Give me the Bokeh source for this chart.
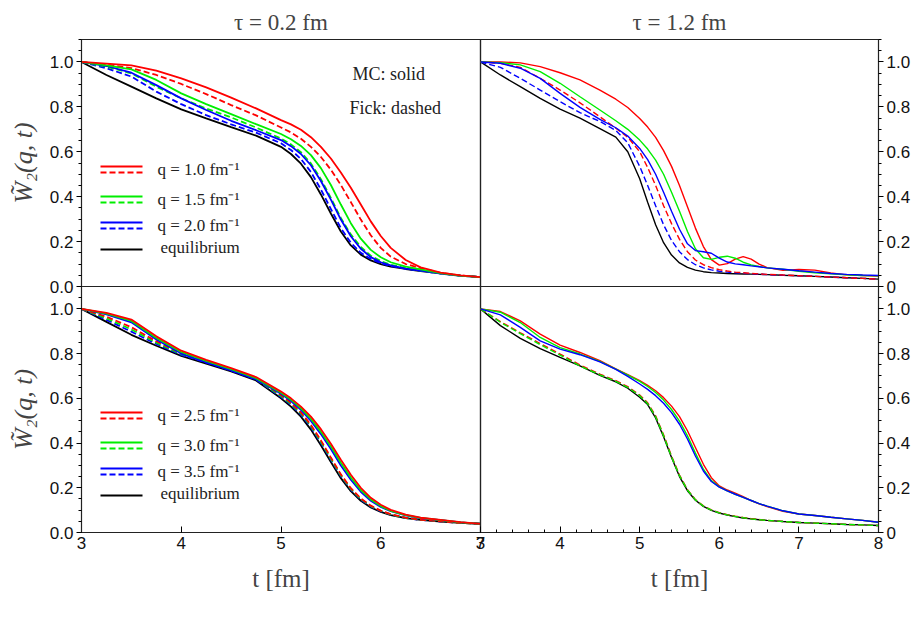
from bokeh.plotting import figure
from bokeh.layouts import column, row
from bokeh.models import Range1d, Label, Arrow, SingleIntervalTicker, NumeralTickFormatter
from bokeh.embed import file_html
from bokeh.resources import INLINE

# ---------------- data ----------------
t_left = [3.0, 3.25, 3.5, 3.75, 4.0, 4.25, 4.5, 4.75, 5.0, 5.1, 5.2, 5.3, 5.4, 5.5, 5.6, 5.7, 5.8, 5.9, 6.0, 6.1,
          6.25, 6.4, 6.6, 6.8, 7.0]
t_right = [3.0, 3.25, 3.5, 3.75, 4.0, 4.25, 4.5, 4.7, 4.85, 5.0, 5.1, 5.2, 5.3, 5.4, 5.5, 5.6, 5.7, 5.8, 5.9, 6.0,
           6.1, 6.2, 6.3, 6.4, 6.5, 6.6, 6.8, 7.0, 7.2, 7.4, 7.6, 7.8, 8.0]

# tau = 0.2 fm, q = 1.0 / 1.5 / 2.0
tl_red_mc = [1.0, 0.993, 0.985, 0.961, 0.927, 0.887, 0.841, 0.793, 0.741, 0.722, 0.698, 0.665, 0.622, 0.57, 0.508, 0.44, 0.365, 0.29, 0.225, 0.172,
             0.118, 0.085, 0.062, 0.05, 0.042]
tl_red_fick = [1.0, 0.988, 0.973, 0.942, 0.902, 0.857, 0.808, 0.762, 0.708, 0.686, 0.658, 0.622, 0.577, 0.52, 0.452, 0.376, 0.298, 0.228, 0.172, 0.133,
               0.1, 0.082, 0.061, 0.049, 0.042]
tl_green_mc = [1.0, 0.985, 0.967, 0.92, 0.86, 0.812, 0.768, 0.723, 0.679, 0.656, 0.626, 0.585, 0.527, 0.452, 0.365, 0.282, 0.213, 0.163, 0.13, 0.108,
               0.089, 0.076, 0.06, 0.048, 0.042]
tl_green_fick = [1.0, 0.979, 0.949, 0.89, 0.838, 0.793, 0.753, 0.708, 0.659, 0.633, 0.598, 0.548, 0.478, 0.395, 0.305, 0.232, 0.176, 0.137, 0.113, 0.097,
                 0.082, 0.071, 0.058, 0.048, 0.042]
tl_blue_mc = [1.0, 0.982, 0.952, 0.897, 0.838, 0.786, 0.738, 0.696, 0.652, 0.625, 0.59, 0.54, 0.47, 0.387, 0.298, 0.224, 0.168, 0.131, 0.108, 0.094,
              0.08, 0.071, 0.058, 0.048, 0.042]
tl_blue_fick = [1.0, 0.972, 0.935, 0.868, 0.812, 0.763, 0.722, 0.685, 0.638, 0.608, 0.568, 0.51, 0.432, 0.345, 0.26, 0.195, 0.15, 0.122, 0.104, 0.091,
                0.079, 0.07, 0.057, 0.048, 0.042]
tl_equil = [1.0, 0.942, 0.89, 0.838, 0.789, 0.749, 0.71, 0.672, 0.622, 0.59, 0.547, 0.487, 0.41, 0.325, 0.245, 0.183, 0.142, 0.116, 0.1, 0.089,
            0.078, 0.069, 0.058, 0.048, 0.042]

# tau = 1.2 fm, q = 1.0 / 1.5 / 2.0
tr_red_mc = [1.0, 1.0, 0.996, 0.979, 0.952, 0.92, 0.875, 0.834, 0.797, 0.748, 0.71, 0.664, 0.605, 0.535, 0.45, 0.355, 0.26, 0.178, 0.12, 0.095,
             0.102, 0.122, 0.133, 0.122, 0.1, 0.084, 0.072, 0.076, 0.073, 0.06, 0.052, 0.049, 0.046]
tr_red_fick = [1.0, 0.994, 0.976, 0.927, 0.875, 0.818, 0.756, 0.705, 0.665, 0.6, 0.53, 0.45, 0.36, 0.28, 0.21, 0.155, 0.118, 0.097, 0.084, 0.075,
               0.069, 0.064, 0.061, 0.058, 0.056, 0.054, 0.051, 0.048, 0.045, 0.042, 0.039, 0.036, 0.033]
tr_green_mc = [1.0, 0.997, 0.987, 0.957, 0.905, 0.845, 0.786, 0.738, 0.7, 0.652, 0.612, 0.563, 0.5, 0.42, 0.335, 0.245, 0.168, 0.128, 0.121, 0.13,
               0.135, 0.126, 0.108, 0.096, 0.089, 0.083, 0.077, 0.068, 0.061, 0.057, 0.052, 0.049, 0.048]
tr_blue_mc = [1.0, 0.994, 0.972, 0.927, 0.86, 0.798, 0.744, 0.707, 0.67, 0.615, 0.565, 0.5, 0.42, 0.335, 0.255, 0.19, 0.16, 0.155, 0.148, 0.126,
              0.109, 0.101, 0.097, 0.092, 0.088, 0.083, 0.077, 0.07, 0.064, 0.058, 0.054, 0.051, 0.049]
tr_blue_fick = [1.0, 0.976, 0.927, 0.875, 0.823, 0.774, 0.735, 0.695, 0.64, 0.535, 0.45, 0.36, 0.275, 0.205, 0.155, 0.12, 0.097, 0.083, 0.074, 0.068,
                0.064, 0.061, 0.059, 0.057, 0.055, 0.053, 0.05, 0.048, 0.045, 0.042, 0.039, 0.036, 0.033]
tr_equil = [1.0, 0.942, 0.89, 0.838, 0.79, 0.75, 0.703, 0.665, 0.6, 0.48, 0.375, 0.275, 0.195, 0.14, 0.105, 0.085, 0.073, 0.066, 0.062, 0.06,
            0.058, 0.057, 0.056, 0.055, 0.054, 0.053, 0.05, 0.048, 0.045, 0.042, 0.039, 0.036, 0.033]

# tau = 0.2 fm, q = 2.5 / 3.0 / 3.5
bl_red_mc = [1.0, 0.982, 0.952, 0.877, 0.813, 0.772, 0.735, 0.695, 0.63, 0.6, 0.563, 0.518, 0.462, 0.397, 0.325, 0.258, 0.2, 0.155, 0.124, 0.101,
             0.08, 0.066, 0.056, 0.046, 0.039]
bl_red_fick = [1.0, 0.965, 0.918, 0.855, 0.802, 0.766, 0.73, 0.69, 0.615, 0.58, 0.537, 0.481, 0.412, 0.335, 0.26, 0.198, 0.152, 0.12, 0.098, 0.082,
               0.066, 0.057, 0.05, 0.043, 0.039]
bl_green_mc = [1.0, 0.979, 0.946, 0.87, 0.807, 0.767, 0.73, 0.69, 0.625, 0.594, 0.555, 0.508, 0.45, 0.385, 0.312, 0.246, 0.19, 0.148, 0.118, 0.097,
               0.078, 0.065, 0.055, 0.045, 0.039]
bl_green_fick = [1.0, 0.958, 0.908, 0.849, 0.798, 0.763, 0.727, 0.687, 0.61, 0.575, 0.532, 0.476, 0.406, 0.33, 0.256, 0.195, 0.15, 0.118, 0.097, 0.081,
                 0.065, 0.057, 0.05, 0.043, 0.039]
bl_blue_mc = [1.0, 0.975, 0.94, 0.863, 0.8, 0.761, 0.725, 0.685, 0.62, 0.588, 0.548, 0.499, 0.44, 0.373, 0.3, 0.236, 0.182, 0.142, 0.114, 0.095,
              0.077, 0.064, 0.055, 0.045, 0.039]
bl_blue_fick = [1.0, 0.951, 0.898, 0.843, 0.794, 0.76, 0.724, 0.684, 0.606, 0.571, 0.527, 0.471, 0.401, 0.325, 0.252, 0.192, 0.147, 0.116, 0.095, 0.08,
                0.065, 0.056, 0.049, 0.043, 0.039]
bl_equil = [1.0, 0.942, 0.884, 0.835, 0.79, 0.755, 0.72, 0.68, 0.6, 0.563, 0.518, 0.46, 0.39, 0.315, 0.243, 0.185, 0.142, 0.112, 0.092, 0.078,
            0.064, 0.056, 0.049, 0.043, 0.039]

# tau = 1.2 fm, q = 2.5 / 3.0 / 3.5
br_red_mc = [1.0, 0.988, 0.946, 0.887, 0.838, 0.805, 0.768, 0.732, 0.706, 0.679, 0.658, 0.634, 0.603, 0.565, 0.518, 0.455, 0.38, 0.305, 0.245, 0.208,
             0.19, 0.176, 0.16, 0.143, 0.128, 0.116, 0.095, 0.083, 0.076, 0.068, 0.061, 0.054, 0.046]
br_red_fick = [1.0, 0.943, 0.893, 0.845, 0.798, 0.749, 0.708, 0.679, 0.652, 0.615, 0.58, 0.522, 0.437, 0.342, 0.257, 0.192, 0.147, 0.119, 0.101, 0.089,
               0.08, 0.073, 0.067, 0.062, 0.058, 0.054, 0.049, 0.045, 0.042, 0.039, 0.036, 0.034, 0.031]
br_green_mc = [1.0, 0.985, 0.939, 0.872, 0.827, 0.798, 0.765, 0.731, 0.704, 0.676, 0.653, 0.626, 0.592, 0.55, 0.498, 0.432, 0.355, 0.283, 0.232, 0.204,
               0.186, 0.171, 0.157, 0.143, 0.129, 0.118, 0.097, 0.083, 0.076, 0.068, 0.061, 0.054, 0.046]
br_green_fick = [1.0, 0.94, 0.889, 0.84, 0.793, 0.745, 0.705, 0.676, 0.649, 0.612, 0.576, 0.518, 0.433, 0.338, 0.254, 0.19, 0.146, 0.118, 0.1, 0.088,
                 0.079, 0.072, 0.066, 0.061, 0.057, 0.054, 0.049, 0.045, 0.042, 0.039, 0.036, 0.034, 0.031]
br_blue_mc = [1.0, 0.973, 0.917, 0.857, 0.82, 0.795, 0.763, 0.729, 0.698, 0.664, 0.64, 0.612, 0.578, 0.536, 0.484, 0.418, 0.342, 0.275, 0.228, 0.203,
              0.186, 0.171, 0.157, 0.143, 0.129, 0.118, 0.097, 0.083, 0.076, 0.068, 0.061, 0.054, 0.046]
br_equil = [1.0, 0.925, 0.868, 0.822, 0.783, 0.745, 0.703, 0.674, 0.645, 0.605, 0.572, 0.512, 0.428, 0.335, 0.25, 0.187, 0.144, 0.117, 0.099, 0.087,
            0.078, 0.071, 0.065, 0.061, 0.057, 0.054, 0.049, 0.045, 0.042, 0.039, 0.036, 0.034, 0.031]

y_ticks_major = 0.2
legend_top = ["q = 1.0 fm\u207b\u00b9", "q = 1.5 fm\u207b\u00b9", "q = 2.0 fm\u207b\u00b9", "equilibrium"]
legend_bottom = ["q = 2.5 fm\u207b\u00b9", "q = 3.0 fm\u207b\u00b9", "q = 3.5 fm\u207b\u00b9", "equilibrium"]
titles = ["\u03c4 = 0.2 fm", "\u03c4 = 1.2 fm"]
y_label = "W\u0303\u2082(q, t)"
x_label = "t [fm]"

RED, GREEN, BLUE, BLACK = "#ff0000", "#00ee00", "#0000ff", "#000000"
SERIF = "Liberation Serif"
SANS = "Liberation Sans"
DASH = "6 3"
OV_X = 20   # horizontal overlap of neighbouring canvases
OV_Y = 12   # half of the vertical overlap


def make_panel(x_end, fw, fh, bl, br, bt, bb, y_side, show_x, title=None):
    p = figure(frame_width=fw, frame_height=fh, x_range=Range1d(3, x_end), y_range=Range1d(0, 1.1),
               min_border_left=bl, min_border_right=br, min_border_top=bt, min_border_bottom=bb,
               output_backend="svg", toolbar_location=None,
               x_axis_location="below" if show_x else None, y_axis_location=y_side)
    p.grid.visible = False
    p.outline_line_color = "#222222"
    p.outline_line_width = 1.2
    p.background_fill_alpha = 0
    p.border_fill_alpha = 0
    if title:
        p.title.text = title
        p.title.text_font = SERIF
        p.title.text_font_size = "23px"
        p.title.text_font_style = "normal"
        p.title.align = "center"
        p.title.standoff = 10
    ya = p.yaxis[0]
    ya.ticker = SingleIntervalTicker(interval=y_ticks_major, num_minor_ticks=4)
    ya.formatter = NumeralTickFormatter(format="0.0")
    ya.major_label_text_font = SANS
    ya.major_label_text_font_size = "17px"
    ya.major_label_text_color = "#111111"
    ya.major_tick_out = 5
    ya.major_tick_in = 0
    ya.minor_tick_out = 3
    ya.minor_tick_in = 0
    ya.major_label_standoff = 3
    ya.axis_line_color = "#222222"
    if y_side == "right":
        ya.major_label_overrides = {0: "0"}
    else:
        ya.axis_label = y_label
        ya.axis_label_text_font = SERIF
        ya.axis_label_text_font_size = "26px"
        ya.axis_label_text_font_style = "italic"
        ya.axis_label_standoff = 9
    if show_x:
        xa = p.xaxis[0]
        xa.ticker = SingleIntervalTicker(interval=1, num_minor_ticks=5 if x_end == 8 else 0)
        xa.major_label_text_font = SANS
        xa.major_label_text_font_size = "17px"
        xa.major_label_text_color = "#111111"
        xa.major_tick_in = 6
        xa.major_tick_out = 0
        xa.minor_tick_in = 3
        xa.minor_tick_out = 0
        xa.major_label_standoff = 4
        xa.axis_line_color = "#222222"
        xa.axis_label = x_label
        xa.axis_label_text_font = SERIF
        xa.axis_label_text_font_size = "25px"
        xa.axis_label_text_font_style = "normal"
        xa.axis_label_standoff = 13
    return p


def add_legend(p, labels):
    rows = [(RED, 120, 114, 117), (GREEN, 90, 84, 87), (BLUE, 64, 58, 61)]
    for (c, ys, yd, yt), lab in zip(rows, labels[:3]):
        p.add_layout(Arrow(end=None, x_start=19, y_start=ys, x_end=61, y_end=ys,
                           start_units="screen", end_units="screen", line_color=c, line_width=2))
        p.add_layout(Arrow(end=None, x_start=19, y_start=yd, x_end=61, y_end=yd,
                           start_units="screen", end_units="screen", line_color=c, line_width=2,
                           line_dash=DASH))
        p.add_layout(Label(x=76, y=yt, x_units="screen", y_units="screen", text=lab,
                           text_font=SERIF, text_font_size="17px", text_baseline="middle",
                           text_color="#222222"))
    p.add_layout(Arrow(end=None, x_start=19, y_start=37, x_end=61, y_end=37,
                       start_units="screen", end_units="screen", line_color=BLACK, line_width=2))
    p.add_layout(Label(x=79, y=39, x_units="screen", y_units="screen", text=labels[3],
                       text_font=SERIF, text_font_size="17px", text_baseline="middle",
                       text_color="#222222"))


def draw(p, t, series, lw):
    for ys, color, dash in series:
        if dash:
            p.line(t, ys, line_color=color, line_width=lw, line_dash=DASH)
        else:
            p.line(t, ys, line_color=color, line_width=lw)


p_tl = make_panel(7, 399, 247, 81, OV_X // 2, 39, OV_Y, "left", False, titles[0])
p_tr = make_panel(8, 398, 247, OV_X // 2, 35, 39, OV_Y, "right", False, titles[1])
p_bl = make_panel(7, 399, 246, 81, OV_X // 2, OV_Y, 95, "left", True)
p_br = make_panel(8, 398, 246, OV_X // 2, 35, OV_Y, 95, "right", True)
p_tr.margin = (0, 0, 0, -OV_X)
p_br.margin = (0, 0, 0, -OV_X)

draw(p_tl, t_left, [(tl_equil, BLACK, False), (tl_blue_fick, BLUE, True), (tl_green_fick, GREEN, True),
                    (tl_red_fick, RED, True), (tl_blue_mc, BLUE, False), (tl_green_mc, GREEN, False),
                    (tl_red_mc, RED, False)], 1.8)
draw(p_tr, t_right, [(tr_equil, BLACK, False), (tr_blue_fick, BLUE, True), (tr_red_fick, RED, True),
                     (tr_red_mc, RED, False), (tr_green_mc, GREEN, False), (tr_blue_mc, BLUE, False)], 1.4)
draw(p_bl, t_left, [(bl_equil, BLACK, False), (bl_blue_fick, BLUE, True), (bl_green_fick, GREEN, True),
                    (bl_red_fick, RED, True), (bl_blue_mc, BLUE, False), (bl_green_mc, GREEN, False),
                    (bl_red_mc, RED, False)], 1.8)
draw(p_br, t_right, [(br_equil, BLACK, False), (br_red_fick, RED, True), (br_green_fick, GREEN, True),
                     (br_red_mc, RED, False), (br_green_mc, GREEN, False), (br_blue_mc, BLUE, False)], 1.4)

add_legend(p_tl, legend_top)
add_legend(p_bl, legend_bottom)
p_tl.add_layout(Label(x=271, y=213, x_units="screen", y_units="screen", text="MC: solid",
                      text_font=SERIF, text_font_size="18px", text_baseline="middle", text_color="#222222"))
p_tl.add_layout(Label(x=268, y=179, x_units="screen", y_units="screen", text="Fick: dashed",
                      text_font=SERIF, text_font_size="18px", text_baseline="middle", text_color="#222222"))

top_row = row(p_tl, p_tr)
bottom_row = row(p_bl, p_br)
bottom_row.margin = (-2 * OV_Y, 0, 0, 0)
layout = column(top_row, bottom_row)
open("out.html", "w").write(file_html(layout, INLINE))
